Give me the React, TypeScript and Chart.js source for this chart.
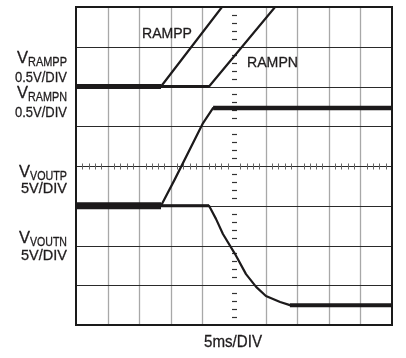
import React, { useEffect, useRef } from "react";
import { Chart, registerables } from "chart.js";

Chart.register(...registerables);

// time axis in divisions (5ms/DIV), 10 divisions; vertical in divisions, 8 divisions
const rampPTime = [0, 2.69, 4.62];
const rampPVal = [6, 6, 8];
const rampNTime = [0, 4.21, 6.3];
const rampNVal = [6, 6, 8];
const voutPTime = [0, 2.69, 3.13, 4.02, 4.34, 10];
const voutPVal = [3, 3, 3.67, 5.08, 5.46, 5.46];
const voutNTime = [0, 4.21, 4.43, 4.65, 5.03, 5.38, 5.7, 6.01, 6.46, 6.77, 10];
const voutNVal = [3, 3, 2.67, 2.29, 1.79, 1.28, 0.96, 0.73, 0.58, 0.5, 0.5];

const xDivisions = 10;
const yDivisions = 8;

const TRACE = "#1c1a1b";
const TEXT = "#1f1c1d";

function pts(t: number[], v: number[]) {
  return t.map((x, i) => ({ x, y: v[i] }));
}

const gridPlugin = {
  id: "scopeGrid",
  beforeDatasetsDraw(chart: any) {
    const { ctx, chartArea: a, scales } = chart;
    const xs = scales.x;
    const ys = scales.y;
    ctx.save();
    ctx.strokeStyle = "#a8a8a8";
    ctx.lineWidth = 1.3;
    for (let i = 1; i < xDivisions; i++) {
      if (i === xDivisions / 2) continue;
      const px = Math.round(xs.getPixelForValue(i)) + 0.5;
      ctx.beginPath();
      ctx.moveTo(px, a.top);
      ctx.lineTo(px, a.bottom);
      ctx.stroke();
    }
    ctx.strokeStyle = "#2a2a2a";
    ctx.lineWidth = 1.2;
    for (let j = 1; j < yDivisions; j++) {
      const py = Math.round(ys.getPixelForValue(j)) + 0.5;
      ctx.beginPath();
      ctx.moveTo(a.left, py);
      ctx.lineTo(a.right, py);
      ctx.stroke();
    }
    const cy = Math.round(ys.getPixelForValue(yDivisions / 2)) + 0.5;
    ctx.strokeStyle = "#666";
    ctx.lineWidth = 1;
    for (let k = 1; k < xDivisions * 5; k++) {
      if (k % 5 === 0) continue;
      const px = Math.round(xs.getPixelForValue(k / 5)) + 0.5;
      ctx.beginPath();
      ctx.moveTo(px, cy - 3);
      ctx.lineTo(px, cy + 3);
      ctx.stroke();
    }
    const cx = Math.round(xs.getPixelForValue(xDivisions / 2)) + 0.5;
    ctx.strokeStyle = "#333";
    ctx.lineWidth = 1.2;
    for (let k = 1; k < yDivisions * 5; k++) {
      if (k % 5 === 0) continue;
      const py = Math.round(ys.getPixelForValue(k / 5)) + 0.5;
      ctx.beginPath();
      ctx.moveTo(cx - 2.5, py);
      ctx.lineTo(cx + 2.5, py);
      ctx.stroke();
    }
    ctx.restore();
  },
  afterDatasetsDraw(chart: any) {
    const { ctx, chartArea: a } = chart;
    ctx.save();
    ctx.strokeStyle = "#1a1a1a";
    ctx.lineWidth = 2;
    ctx.strokeRect(a.left, a.top, a.right - a.left, a.bottom - a.top);
    ctx.restore();
  },
};

const FONT = "'Liberation Sans', Arial, sans-serif";

function txt(ctx: any, s: string, x: number, y: number, size: number, align: string, maxW: number) {
  ctx.font = `${size}px ${FONT}`;
  ctx.textAlign = align;
  ctx.textBaseline = "alphabetic";
  ctx.lineWidth = 0.3;
  ctx.strokeStyle = TEXT;
  const w = ctx.measureText(s).width;
  const sc = w > maxW ? maxW / w : 1;
  ctx.save();
  ctx.translate(x, y);
  ctx.scale(sc, 1);
  ctx.fillText(s, 0, 0);
  ctx.strokeText(s, 0, 0);
  ctx.restore();
  return w * sc;
}

function subLabel(ctx: any, main: string, sub: string, right: number, base: number, subW: number) {
  txt(ctx, sub, right, base + 3, 13.5, "right", subW);
  txt(ctx, main, right - subW, base, 16.5, "right", 13);
}

const labelPlugin = {
  id: "scopeLabels",
  afterDraw(chart: any) {
    const ctx = chart.ctx;
    ctx.save();
    ctx.fillStyle = TEXT;
    subLabel(ctx, "V", "RAMPP", 67, 63, 39);
    txt(ctx, "0.5V/DIV", 67, 82, 15.5, "right", 52);
    subLabel(ctx, "V", "RAMPN", 67, 98, 39);
    txt(ctx, "0.5V/DIV", 67, 117, 15.5, "right", 52);
    subLabel(ctx, "V", "VOUTP", 67, 177, 37);
    txt(ctx, "5V/DIV", 67, 193, 15.5, "right", 46);
    subLabel(ctx, "V", "VOUTN", 67, 243, 37);
    txt(ctx, "5V/DIV", 67, 260, 15.5, "right", 46);
    txt(ctx, "RAMPP", 142, 38, 15.5, "left", 50);
    txt(ctx, "RAMPN", 247, 67, 15.5, "left", 51);
    txt(ctx, "5ms/DIV", 204, 347, 16.5, "left", 58);
    ctx.restore();
  },
};

function trace(label: string, t: number[], v: number[]) {
  return {
    label,
    data: pts(t, v),
    borderColor: TRACE,
    borderWidth: 2.2,
    pointRadius: 0,
    tension: 0,
    fill: false,
    borderJoinStyle: "round",
  };
}

// heavier overlay on the settled (flat) part of a trace, between points i and j
function settled(label: string, t: number[], v: number[], i: number, j: number, w: number) {
  return {
    label,
    data: pts(t.slice(i, j + 1), v.slice(i, j + 1)),
    borderColor: TRACE,
    borderWidth: w,
    pointRadius: 0,
    tension: 0,
    fill: false,
    borderCapStyle: "butt",
  };
}

export default function App() {
  const ref = useRef<HTMLCanvasElement | null>(null);
  useEffect(() => {
    if (!ref.current) return;
    const nP = voutPTime.length - 1;
    const nN = voutNTime.length - 1;
    const chart = new Chart(ref.current, {
      type: "line",
      data: {
        datasets: [
          trace("VOUTP", voutPTime, voutPVal),
          trace("VOUTN", voutNTime, voutNVal),
          trace("RAMPP", rampPTime, rampPVal),
          trace("RAMPN", rampNTime, rampNVal),
          settled("VOUTP start", voutPTime, voutPVal, 0, 1, 7),
          settled("VOUTP end", voutPTime, voutPVal, nP - 1, nP, 4.5),
          settled("VOUTN start", voutNTime, voutNVal, 0, 1, 3),
          settled("VOUTN end", voutNTime, voutNVal, nN - 1, nN, 4),
          settled("RAMPP start", rampPTime, rampPVal, 0, 1, 5),
          settled("RAMPN start", rampNTime, rampNVal, 0, 1, 3),
        ] as any,
      },
      options: {
        animation: false,
        responsive: false,
        maintainAspectRatio: false,
        events: [],
        layout: { padding: { left: 76, right: 14, top: 7, bottom: 33 } },
        plugins: { legend: { display: false }, tooltip: { enabled: false } },
        scales: {
          x: { type: "linear", min: 0, max: xDivisions, display: false },
          y: { type: "linear", min: 0, max: yDivisions, display: false },
        },
      },
      plugins: [gridPlugin, labelPlugin],
    });
    return () => chart.destroy();
  }, []);
  return (
    <div style={{ position: "fixed", left: 0, top: 0, width: 406, height: 358, background: "#fff" }}>
      <canvas ref={ref} width={406} height={358} style={{ display: "block" }} />
    </div>
  );
}
